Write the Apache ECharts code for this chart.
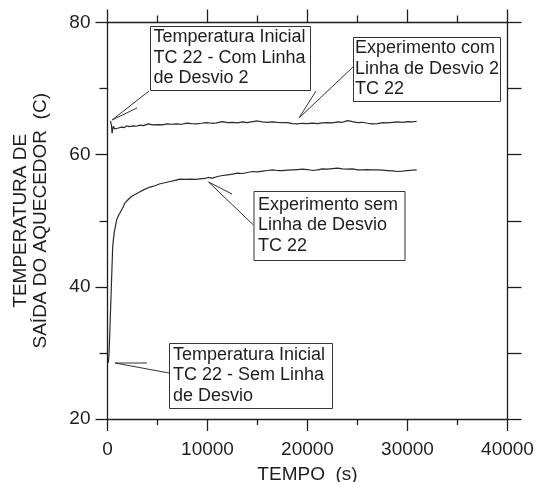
<!DOCTYPE html>
<html>
<head>
<meta charset="utf-8">
<script src="https://cdn.jsdelivr.net/npm/echarts@6/dist/echarts.min.js"></script>
<style>
html,body{margin:0;padding:0;background:#fff;}
#c{width:537px;height:482px;}
</style>
</head>
<body>
<div id="c"></div>
<script>
// ---- data (time in s, temperature in C) ----
const timeWith = [300,400,460,520,600,700,850,1000,1200,1420,1700,1920,2200,2590,2900,3250,3600,4080,4500,5080,5500,5920,6400,6920,7400,7920,8400,8920,9400,9920,10400,10900,11500,12000,12500,13000,13500,14000,14500,15000,15500,16000,16500,17000,17500,18000,18500,19000,19500,20000,20500,21000,21500,22000,22500,23000,23500,24000,24500,25000,25500,26000,26500,27000,27500,28000,28500,29000,29500,30000,30500,30920];
const tempWith = [65.1,64.4,63.2,63.9,64.3,63.9,64.1,64.0,64.15,64.16,64.1,64.36,64.25,64.36,64.3,64.46,64.4,64.66,64.5,64.56,64.5,64.66,64.6,64.66,64.6,64.77,64.7,64.66,64.75,64.86,64.75,64.8,65.0,64.85,64.9,64.8,64.96,64.85,65.0,65.1,64.95,64.9,64.96,64.9,64.85,64.86,64.7,64.66,64.75,64.7,64.77,64.7,64.8,64.86,64.8,64.96,64.9,65.16,65.0,64.86,64.9,64.75,64.66,64.7,64.86,64.8,64.9,64.96,64.9,65.0,64.95,65.06];

const timeWithout = [80,150,250,350,450,520,600,700,850,920,1100,1250,1500,1750,2000,2420,2800,3250,3700,4250,4750,5250,5750,6250,6750,7250,7750,8250,8750,9250,9750,10050,10500,11000,11500,12000,12500,13000,13500,14000,14500,15000,15500,16000,16500,17000,17500,18000,18500,19000,19500,20000,20500,21000,21500,22000,22500,23000,23500,24000,24500,25000,25500,26000,26500,27000,27500,28000,28500,29000,29500,30000,30500,30920];
const tempWithout = [28.5,29.8,34,38.5,43,46.1,47.3,48.5,49.6,50.15,50.8,51.2,51.9,52.7,53.1,53.7,54.0,54.4,54.75,55.1,55.3,55.6,55.75,55.94,56.1,56.3,56.25,56.3,56.25,56.35,56.4,56.55,56.45,56.7,56.85,56.95,57.05,57.2,57.15,57.3,57.45,57.4,57.5,57.6,57.7,57.6,57.6,57.65,57.7,57.75,57.8,57.75,57.6,57.7,57.85,57.8,57.9,57.96,57.85,57.8,57.85,57.7,57.7,57.75,57.7,57.7,57.65,57.6,57.55,57.45,57.5,57.6,57.65,57.7];

const xTicks = [0,10000,20000,30000,40000];
const yTicks = [20,40,60,80];

const annotationTexts = [
  'Temperatura Inicial\nTC 22 - Com Linha\nde Desvio 2',
  'Experimento com\nLinha de Desvio 2\nTC 22',
  'Experimento sem\nLinha de Desvio\nTC 22',
  'Temperatura Inicial\nTC 22 - Sem Linha\nde Desvio'
];

// ---- layout (pixels) ----
const annotationLayout = [
  {box:[150,26,160,64], tx:153.5, arrow:[[137,108],[112,120],[149,91]]},
  {box:[353,37,147,64], tx:355, arrow:[[316,91],[299,118],[353,67]]},
  {box:[253.5,191,151,69], tx:258, arrow:[[232,194],[208.5,182],[253.5,225]]},
  {box:[169,343,163,65], tx:173, arrow:[[147,363],[115,363],[169,373]]}
];

const FONT = 'Liberation Sans, Arial, sans-serif';
const INK = '#1e1e1e';

function zip(a,b){return a.map((v,i)=>[v,b[i]]);}

const chart = echarts.init(document.getElementById('c'), null, {renderer:'canvas'});

const axisLine = {show:true, onZero:false, lineStyle:{color:INK, width:1.3}};

const graphics = [];
annotationLayout.forEach((a,i)=>{
  graphics.push({type:'polyline', silent:true, z:10,
    shape:{points:a.arrow}, style:{stroke:'#333', lineWidth:1, fill:null}});
  graphics.push({type:'rect', silent:true, z:10,
    shape:{x:a.box[0]+0.5, y:a.box[1]+0.5, width:a.box[2], height:a.box[3]},
    style:{fill:'#fff', stroke:'#333', lineWidth:1}});
  graphics.push({type:'text', silent:true, z:11,
    style:{text:annotationTexts[i], x:a.tx, y:a.box[1]+a.box[3]/2, fill:INK,
      fontSize:18, fontFamily:FONT, lineHeight:20.5, align:'left', verticalAlign:'middle'}});
});

chart.setOption({
  backgroundColor:'#fff',
  animation:false,
  grid:{left:107.5, right:29.5, top:22.5, bottom:63, containLabel:false, outerBoundsMode:'none'},
  xAxis:[
    {type:'value', position:'bottom', min:0, max:40000, interval:10000,
     axisLine, splitLine:{show:false},
     axisTick:{show:true, length:12, lineStyle:{color:INK, width:1.3}},
     minorTick:{show:true, splitNumber:2, length:6, lineStyle:{color:INK, width:1.3}},
     axisLabel:{color:INK, fontSize:19, fontFamily:FONT, margin:21, lineHeight:20,
       formatter:v=>xTicks.includes(v)?String(v):''},
     name:'TEMPO  (s)', nameLocation:'middle', nameGap:33,
     nameTextStyle:{color:INK, fontSize:19, fontFamily:FONT, lineHeight:20}},
    {type:'value', position:'top', min:0, max:40000, interval:10000,
     axisLine, splitLine:{show:false},
     axisTick:{show:true, length:13, lineStyle:{color:INK, width:1.3}},
     minorTick:{show:true, splitNumber:2, length:7, lineStyle:{color:INK, width:1.3}},
     axisLabel:{show:false}}
  ],
  yAxis:[
    {type:'value', position:'left', min:20, max:80, interval:20,
     axisLine, splitLine:{show:false},
     axisTick:{show:true, length:12, lineStyle:{color:INK, width:1.3}},
     minorTick:{show:true, splitNumber:2, length:8, lineStyle:{color:INK, width:1.3}},
     axisLabel:{color:INK, fontSize:19, fontFamily:FONT, margin:17,
       formatter:v=>yTicks.includes(v)?String(v):''},
     name:'TEMPERATURA DE\nSAÍDA DO AQUECEDOR  (C)', nameLocation:'middle', nameRotate:90, nameGap:57,
     nameTextStyle:{color:INK, fontSize:19, fontFamily:FONT, lineHeight:20}},
    {type:'value', position:'right', min:20, max:80, interval:10,
     axisLine, splitLine:{show:false},
     axisTick:{show:true, length:14, lineStyle:{color:INK, width:1.3}},
     axisLabel:{show:false}}
  ],
  series:[
    {type:'line', name:'com', data:zip(timeWith,tempWith), showSymbol:false, symbol:'none',
     lineStyle:{color:'#2a2a2a', width:1.2}, z:3},
    {type:'line', name:'sem', data:zip(timeWithout,tempWithout), showSymbol:false, symbol:'none',
     lineStyle:{color:'#2a2a2a', width:1.2}, z:3}
  ],
  graphic:graphics
});
</script>
</body>
</html>
